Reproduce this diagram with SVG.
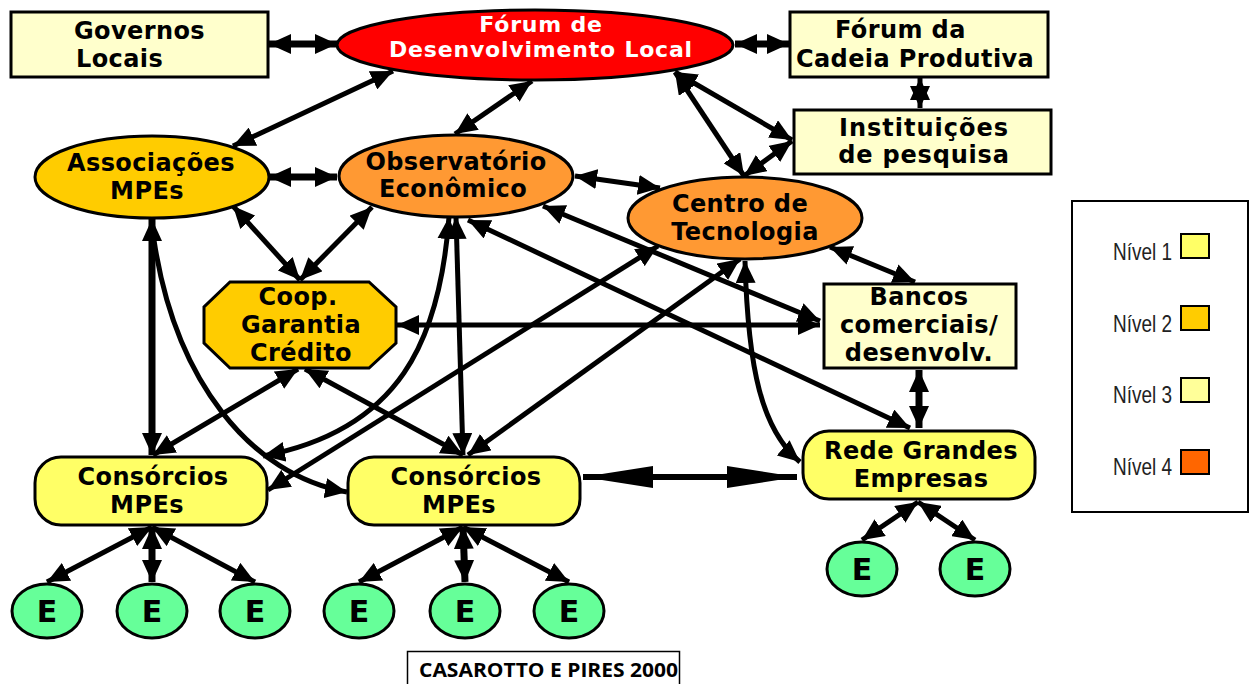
<svg xmlns="http://www.w3.org/2000/svg" width="1255" height="684" viewBox="0 0 1255 684">
<style>
.n{stroke:#000;stroke-width:3}
.t{font-family:"DejaVu Sans",Verdana,sans-serif;font-weight:bold;font-size:24px;fill:#000;text-anchor:middle;letter-spacing:0.4px}
.w{font-family:"DejaVu Sans",Verdana,sans-serif;font-weight:bold;font-size:22px;fill:#fff;text-anchor:middle;letter-spacing:0.8px}
.e{font-family:"DejaVu Sans",Verdana,sans-serif;font-weight:bold;font-size:30px;fill:#000;text-anchor:middle}
.c path{fill:none;stroke:#000;stroke-width:5;marker-start:url(#ah);marker-end:url(#ah)}
.c path.th{stroke-width:7}
.lg{font-family:"Liberation Sans Narrow","Liberation Sans",Arial,sans-serif;font-size:24px;fill:#222}
</style>
<defs>
<marker id="ah" markerUnits="userSpaceOnUse" markerWidth="22" markerHeight="20" refX="22" refY="10" orient="auto-start-reverse" viewBox="0 0 22 20"><path d="M0,0L22,10L0,20z" fill="#000"/></marker>
<marker id="big" markerUnits="userSpaceOnUse" markerWidth="70" markerHeight="22" refX="70" refY="11" orient="auto-start-reverse" viewBox="0 0 70 22"><path d="M0,0L70,11L0,22z" fill="#000"/></marker>
</defs>
<rect width="1255" height="684" fill="#fff"/>

<g id="connectors" class="c">
<path class="th" d="M269,44L337,44"/>
<path class="th" d="M735,44L789,44"/>
<path d="M920,78L920,108"/>
<path d="M393,71L233,146"/>
<path d="M532,81L455,134"/>
<path d="M675,72L744,176"/>
<path d="M675,72L792,140"/>
<path d="M792,141L744,176"/>
<path class="th" d="M269,177L337,177"/>
<path d="M575,176L660,188"/>
<path d="M233,206L300,280"/>
<path d="M372,207L300,280"/>
<path class="th" d="M152,219L152,455"/>
<path d="M154,240C175,380 250,475 347,492" style="marker-start:none"/>
<path d="M449,217C440,340 400,430 263,456"/>
<path d="M456,217L463,455"/>
<path d="M468,220L910,428"/>
<path d="M543,206L820,321"/>
<path d="M397,325L820,325"/>
<path d="M658,246L268,490"/>
<path d="M740,259L468,455"/>
<path d="M745,261C748,370 762,430 800,462"/>
<path d="M830,247L915,282"/>
<path class="th" d="M919,370L919,428"/>
<path d="M583,477L797,477" style="stroke-width:6;marker-start:url(#big);marker-end:url(#big)"/>
<path d="M298,369L153,455"/>
<path d="M305,369L463,455"/>
<path d="M152,527L47,582"/>
<path class="th" d="M152,527L152,582"/>
<path d="M152,527L255,582"/>
<path d="M463,527L359,582"/>
<path class="th" d="M463,527L465,582"/>
<path d="M463,527L569,582"/>
<path d="M918,502L862,540"/>
<path d="M918,502L975,540"/>
</g>

<g id="governos">
<rect class="n" x="11" y="12" width="257" height="65" fill="#FFFFCC"/>
<text class="t" x="74" y="39" style="text-anchor:start">Governos</text>
<text class="t" x="76" y="67" style="text-anchor:start">Locais</text>
</g>
<g id="forum-dl">
<ellipse class="n" cx="535" cy="45" rx="198" ry="35" fill="#FF0000"/>
<text class="w" x="541" y="32">Fórum de</text>
<text class="w" x="541" y="57">Desenvolvimento Local</text>
</g>
<g id="forum-cadeia">
<rect class="n" x="790" y="12" width="258" height="65" fill="#FFFFCC"/>
<text class="t" x="835" y="38" style="text-anchor:start">Fórum da</text>
<text class="t" x="796" y="67" style="text-anchor:start">Cadeia Produtiva</text>
</g>
<g id="instituicoes">
<rect class="n" x="794" y="110" width="257" height="64" fill="#FFFFCC"/>
<text class="t" x="924" y="136" style="letter-spacing:1px">Instituições</text>
<text class="t" x="924" y="163" style="letter-spacing:0.8px">de pesquisa</text>
</g>
<g id="associacoes">
<ellipse class="n" cx="152" cy="177" rx="117" ry="41" fill="#FFCC00"/>
<text class="t" x="151" y="171">Associações</text>
<text class="t" x="147" y="199">MPEs</text>
</g>
<g id="observatorio">
<ellipse class="n" cx="456" cy="176" rx="117" ry="41" fill="#FF9933"/>
<text class="t" x="456" y="170">Observatório</text>
<text class="t" x="453" y="197">Econômico</text>
</g>
<g id="centro">
<ellipse class="n" cx="745" cy="218" rx="117" ry="41" fill="#FF9933"/>
<text class="t" x="740" y="212">Centro de</text>
<text class="t" x="745" y="240">Tecnologia</text>
</g>
<g id="coop">
<polygon class="n" points="230,282 369,282 396,307 396,343 369,368 230,368 204,343 204,307" fill="#FFCC00"/>
<text class="t" x="298" y="305">Coop.</text>
<text class="t" x="301" y="333">Garantia</text>
<text class="t" x="301" y="361">Crédito</text>
</g>
<g id="bancos">
<rect class="n" x="824" y="284" width="192" height="84" fill="#FFFFCC"/>
<text class="t" x="919" y="305">Bancos</text>
<text class="t" x="919" y="333">comerciais/</text>
<text class="t" x="919" y="361">desenvolv.</text>
</g>
<g id="rede">
<rect class="n" x="803" y="431" width="232" height="68" rx="26" fill="#FFFF66"/>
<text class="t" x="921" y="459">Rede Grandes</text>
<text class="t" x="921" y="487">Empresas</text>
</g>
<g id="consorcios-1">
<rect class="n" x="35" y="457" width="232" height="68" rx="26" fill="#FFFF66"/>
<text class="t" x="153" y="485">Consórcios</text>
<text class="t" x="147" y="513">MPEs</text>
</g>
<g id="consorcios-2">
<rect class="n" x="348" y="457" width="232" height="68" rx="26" fill="#FFFF66"/>
<text class="t" x="466" y="485">Consórcios</text>
<text class="t" x="459" y="513">MPEs</text>
</g>
<g id="e1"><ellipse class="n" cx="47" cy="611" rx="35" ry="27" fill="#66FF99"/><text class="e" x="47" y="622">E</text></g>
<g id="e2"><ellipse class="n" cx="152" cy="611" rx="35" ry="27" fill="#66FF99"/><text class="e" x="152" y="622">E</text></g>
<g id="e3"><ellipse class="n" cx="255" cy="611" rx="35" ry="27" fill="#66FF99"/><text class="e" x="255" y="622">E</text></g>
<g id="e4"><ellipse class="n" cx="359" cy="611" rx="35" ry="27" fill="#66FF99"/><text class="e" x="359" y="622">E</text></g>
<g id="e5"><ellipse class="n" cx="465" cy="611" rx="35" ry="27" fill="#66FF99"/><text class="e" x="465" y="622">E</text></g>
<g id="e6"><ellipse class="n" cx="569" cy="611" rx="35" ry="27" fill="#66FF99"/><text class="e" x="569" y="622">E</text></g>
<g id="e7"><ellipse class="n" cx="862" cy="569" rx="35" ry="27" fill="#66FF99"/><text class="e" x="862" y="580">E</text></g>
<g id="e8"><ellipse class="n" cx="975" cy="569" rx="35" ry="27" fill="#66FF99"/><text class="e" x="975" y="580">E</text></g>

<g id="legend">
<rect x="1072" y="201" width="176" height="311" fill="#fff" stroke="#000" stroke-width="2"/>
<text class="lg" x="1113" y="260" textLength="59" lengthAdjust="spacingAndGlyphs">Nível 1</text>
<rect x="1181" y="234" width="28" height="24" fill="#FFFF66" stroke="#000" stroke-width="2"/>
<text class="lg" x="1113" y="332" textLength="59" lengthAdjust="spacingAndGlyphs">Nível 2</text>
<rect x="1181" y="306" width="28" height="24" fill="#FFCC00" stroke="#000" stroke-width="2"/>
<text class="lg" x="1113" y="403" textLength="59" lengthAdjust="spacingAndGlyphs">Nível 3</text>
<rect x="1181" y="378" width="28" height="24" fill="#FFFF99" stroke="#000" stroke-width="2"/>
<text class="lg" x="1113" y="475" textLength="59" lengthAdjust="spacingAndGlyphs">Nível 4</text>
<rect x="1181" y="450" width="28" height="24" fill="#FF6600" stroke="#000" stroke-width="2"/>
</g>

<g id="caption">
<rect x="407.5" y="651.5" width="272" height="40" fill="#fff" stroke="#000" stroke-width="1.5"/>
<text x="419" y="677" font-family="'Open Sans','Noto Sans',sans-serif" font-weight="bold" font-size="19" textLength="259" lengthAdjust="spacingAndGlyphs">CASAROTTO E PIRES 2000</text>
</g>
</svg>
